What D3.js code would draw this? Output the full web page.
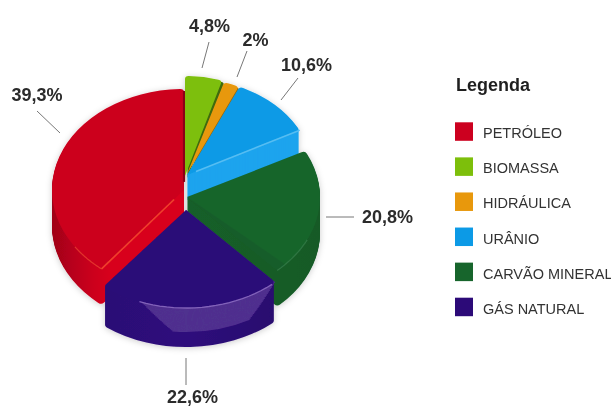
<!DOCTYPE html>
<html><head><meta charset="utf-8">
<script src="https://cdn.jsdelivr.net/npm/d3@7/dist/d3.min.js"></script>
<style>html,body{margin:0;padding:0;background:#fff}svg{display:block}</style>
</head><body><div id="c"></div>
<script>
const categories = ["PETRÓLEO","BIOMASSA","HIDRÁULICA","URÂNIO","CARVÃO MINERAL","GÁS NATURAL"];
const values = [39.3,4.8,2,10.6,20.8,22.6];
const colors = ["#cc001f","#7dbf0b","#e8980c","#0c9ae6","#17652c","#2c0a78"];
const legendTitle = "Legenda";

// slice geometry (exploded 3D look)
const geom = [
 {cx:184,cy:190,rx:132,ry:101,d:36},
 {cx:185,cy:176,rx:125,ry:100,d:0},
 {cx:187,cy:174,rx:125,ry:96,d:0},
 {cx:187,cy:175,rx:127,ry:97,d:25},
 {cx:187,cy:197,rx:133,ry:100,d:36},
 {cx:186,cy:210,rx:132,ry:98,d:39}
];
const leaders = [[37,111,60,133],[209,42,202,68],[247,51,237,77],[298,78,281,100],[326,217,354,217],[186,358,186,385]];
const labelPos = [[37,101],[209.5,32],[255.5,46],[306.5,70.5],[387.5,223],[192.5,402.5]];

const W=611,H=406;
const svg=d3.select("#c").append("svg").attr("width",W).attr("height",H)
  .style("filter","blur(0.35px)");
const defs=svg.append("defs");
const f=defs.append("filter").attr("id","sh").attr("x","-20%").attr("y","-20%").attr("width","140%").attr("height","140%");
f.append("feDropShadow").attr("dx",0).attr("dy",1).attr("stdDeviation",3).attr("flood-color","#000").attr("flood-opacity",.2);
function grad(id,x0,x1,stops){
  const g=defs.append("linearGradient").attr("id",id).attr("gradientUnits","userSpaceOnUse")
    .attr("x1",x0).attr("x2",x1).attr("y1",0).attr("y2",0);
  stops.forEach(s=>g.append("stop").attr("offset",s[0]).attr("stop-color",s[1]));
}
// gradient coordinates live in the slice's local unit circle (-100..100)
grad("oilSide",-100,-55,[[0,"#a00018"],[.35,"#b8001b"],[.7,"#cc001e"],[1,"#d8001e"]]);
grad("gasSide",-100,100,[[0,"#2a0a72"],[.5,"#2e0b7c"],[1,"#260868"]]);
grad("coalSide",0,100,[[0,"#155f29"],[1,"#145a27"]]);

const firstShare=values[0]/d3.sum(values)*2*Math.PI;
const pie=d3.pie().sort(null).startAngle(-firstShare).endAngle(2*Math.PI-firstShare);
const arcs=pie(values);
const unit=100;
const arc=d3.arc().innerRadius(0).outerRadius(unit).cornerRadius(3);
const T=(g,dy=0,dx=0)=>`translate(${g.cx+dx},${g.cy+dy}) scale(${g.rx/unit},${g.ry/unit})`;
const pieG=svg.append("g").attr("filter","url(#sh)");

function side(i,fill){
  const g=geom[i];
  for(let d=g.d;d>=1;d--){
    pieG.append("path").attr("d",arc(arcs[i])).attr("transform",T(g,d)).attr("fill",fill);
  }
}
function topFace(i){
  pieG.append("path").attr("d",arc(arcs[i])).attr("transform",T(geom[i])).attr("fill",colors[i]);
}
function rim(i,a0,a1,col,w=1.2,op=1,dy=0){
  const pts=d3.range(0,1.0001,0.05).map(t=>[a0+(a1-a0)*t,unit]);
  pieG.append("path")
   .attr("d",d3.lineRadial()(pts))
   .attr("transform",T(geom[i],dy)).attr("fill","none")
   .attr("stroke",col).attr("stroke-width",w).attr("stroke-opacity",op)
   .attr("vector-effect","non-scaling-stroke");
}
function spoke(i,angle,r0,r1,col,w=1.5){
  const line=d3.lineRadial()([[angle,r0],[angle,r1]]);
  pieG.append("path").attr("d",line).attr("transform",T(geom[i])).attr("fill","none")
   .attr("stroke",col).attr("stroke-width",w).attr("vector-effect","non-scaling-stroke");
}
const rad=d=>d*Math.PI/180;

// PETRÓLEO
side(0,"url(#oilSide)"); topFace(0);
const oil=arcs[0];
spoke(0,oil.startAngle,12,unit,"#f0402c",1.6);
rim(0,oil.startAngle,oil.startAngle+rad(17),"#e84030",1.2,.8);
spoke(0,oil.endAngle,8,98,"#8a0014",2.2);

// BIOMASSA
pieG.append("path").attr("d",arc(arcs[1])).attr("transform",T(geom[1],2,2.5)).attr("fill","#3f6a08");
topFace(1);
// HIDRÁULICA
pieG.append("path").attr("d",arc(arcs[2])).attr("transform",T(geom[2],2,1.5)).attr("fill","#9a6a08");
topFace(2);
// URÂNIO
side(3,"#1ca4ee"); topFace(3);
spoke(3,arcs[3].endAngle,8,unit,"#56bdf2",1.6);

// CARVÃO
side(4,"url(#coalSide)"); topFace(4);
const coal=arcs[4];
pieG.append("path")
  .attr("d",d3.arc().innerRadius(0).outerRadius(unit)({startAngle:coal.endAngle-rad(5),endAngle:coal.endAngle}))
  .attr("transform",T(geom[4])).attr("fill","#12562a").attr("opacity",.5);
rim(4,coal.endAngle-rad(22),coal.endAngle,"#3f8350",1.3,.6);

// GÁS NATURAL
side(5,"url(#gasSide)");
const gasA=arcs[5], bev=24;
for(let d=bev;d>=0;d--){
  const t=d/bev;
  pieG.append("path")
    .attr("d",d3.arc().innerRadius(0).outerRadius(unit)({
      startAngle:rad(137.5+13.5*t), endAngle:rad(200-14*t)}))
    .attr("transform",T(geom[5],d)).attr("fill","#50308f");
}
topFace(5);
rim(5,gasA.startAngle+rad(2),gasA.endAngle-rad(18),"#8a6cc0",1.3,.9);

// LEADERS
svg.append("g").selectAll("line").data(leaders).join("line")
  .attr("x1",d=>d[0]).attr("y1",d=>d[1]).attr("x2",d=>d[2]).attr("y2",d=>d[3])
  .attr("stroke","#777").attr("stroke-width",1);

// LABELS
const fmt=v=>String(v).replace(".",",")+"%";
svg.append("g").selectAll("text").data(values).join("text")
  .attr("x",(d,i)=>labelPos[i][0]).attr("y",(d,i)=>labelPos[i][1])
  .attr("text-anchor","middle").attr("font-family","Liberation Sans")
  .attr("font-weight","bold").attr("font-size",18).attr("fill","#2b2b2b").text(fmt);

// LEGEND
svg.append("text").attr("x",456).attr("y",91).attr("font-family","Liberation Sans")
  .attr("font-weight","bold").attr("font-size",18).attr("fill","#1f1f1f").text(legendTitle);
const ly=d3.scalePoint().domain(categories).range([122.3,297.7]);
const leg=svg.append("g").selectAll("g").data(categories).join("g")
  .attr("transform",d=>`translate(455,${ly(d)})`);
leg.append("rect").attr("width",18).attr("height",18.5).attr("fill",(d,i)=>colors[i]);
leg.append("text").attr("x",28).attr("y",16).attr("font-family","Liberation Sans")
  .attr("font-size",14.5).attr("fill","#333").text(d=>d);
</script></body></html>
